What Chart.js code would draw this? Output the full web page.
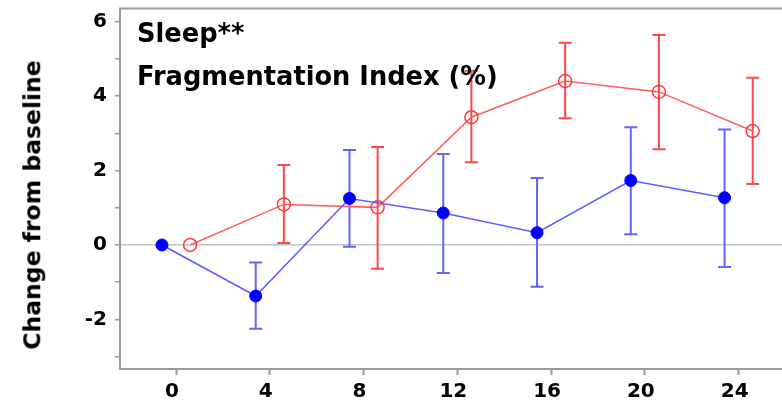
<!DOCTYPE html>
<html>
<head>
<meta charset="utf-8">
<script src="https://cdn.jsdelivr.net/npm/chart.js@4.4.0/dist/chart.umd.min.js"></script>
<style>
    html, body { margin: 0; padding: 0; background: #fff; }
    #wrap { position: relative; width: 782px; height: 404px; overflow: hidden; }
    #wrap canvas { position: absolute; left: 0; top: 0; }
    .note {
        position: absolute;
        font-family: "DejaVu Sans";
        font-weight: bold;
        font-size: 25.7px;
        line-height: 1;
        color: #000;
        white-space: nowrap;
    }
    #ytitle {
        position: absolute;
        left: 33px;
        top: 205px;
        transform: translate(-50%, -50%) rotate(-90deg);
        font-family: "DejaVu Sans";
        font-weight: bold;
        font-size: 23.5px;
        line-height: 1;
        color: #000;
        white-space: nowrap;
    }
</style>
</head>
<body>
<div id="wrap">
    <canvas id="myChart" width="782" height="404"></canvas>
    <div class="note" style="left:137px; top:21px;">Sleep**</div>
    <div class="note" style="left:137px; top:64px;">Fragmentation Index (%)</div>
    <div id="ytitle">Change from baseline</div>
</div>
<script>
// tick labels
const xTicks = [0, 4, 8, 12, 16, 20, 24];
const yTicks = [-3, -2, -1, 0, 1, 2, 3, 4, 5, 6];

// serie azul (puntos llenos), x desplazada a la izquierda
const blueX = [-0.6, 3.4, 7.4, 11.4, 15.4, 19.4, 23.4];
const blueMean = [0, -1.37, 1.25, 0.86, 0.33, 1.73, 1.27];
const blueLow = [0, -2.25, -0.05, -0.75, -1.12, 0.29, -0.59];
const blueHigh = [0, -0.47, 2.55, 2.44, 1.80, 3.16, 3.10];

// serie roja (círculos vacíos), x desplazada a la derecha
const redX = [0.6, 4.6, 8.6, 12.6, 16.6, 20.6, 24.6];
const redMean = [0, 1.09, 1.01, 3.43, 4.40, 4.11, 3.06];
const redLow = [0, 0.05, -0.64, 2.22, 3.40, 2.57, 1.64];
const redHigh = [0, 2.15, 2.63, 4.68, 5.43, 5.64, 4.49];

function puntos(xs, mean, low, high) {
    return xs.map((x, i) => ({ x: x, y: mean[i], lo: low[i], hi: high[i] }));
}

// barras de error y borde superior
const errorBars = {
    id: 'errorBars',
    beforeDatasetsDraw(chart) {
        const ctx = chart.ctx;
        const xs = chart.scales.x;
        const ys = chart.scales.y;
        chart.data.datasets.forEach(ds => {
            ctx.save();
            ctx.strokeStyle = ds.errColor;
            ctx.lineWidth = 2;
            ds.data.forEach(p => {
                if (p.lo === p.hi) return;
                const px = xs.getPixelForValue(p.x);
                const top = ys.getPixelForValue(p.hi);
                const bot = ys.getPixelForValue(p.lo);
                ctx.beginPath();
                ctx.moveTo(px, top);
                ctx.lineTo(px, bot);
                ctx.moveTo(px - 6.5, top);
                ctx.lineTo(px + 6.5, top);
                ctx.moveTo(px - 6.5, bot);
                ctx.lineTo(px + 6.5, bot);
                ctx.stroke();
            });
            ctx.restore();
        });
    },
    afterDraw(chart) {
        const ctx = chart.ctx;
        const a = chart.chartArea;
        ctx.save();
        ctx.strokeStyle = '#9a9a9a';
        ctx.lineWidth = 2;
        ctx.beginPath();
        ctx.moveTo(a.left - 1, a.top);
        ctx.lineTo(a.right, a.top);
        ctx.stroke();
        ctx.restore();
    }
};

Chart.defaults.font.family = 'DejaVu Sans';
Chart.defaults.color = '#000';

const ctx = document.getElementById('myChart').getContext('2d');
const myChart = new Chart(ctx, {
    type: 'scatter',
    data: {
        datasets: [
            {
                label: 'Blue',
                data: puntos(blueX, blueMean, blueLow, blueHigh),
                showLine: true,
                borderColor: '#5c5cff',
                borderWidth: 1.5,
                backgroundColor: '#0000ff',
                pointBackgroundColor: '#0000ff',
                pointBorderColor: '#0000ff',
                pointRadius: 6,
                pointBorderWidth: 1,
                errColor: '#6464ff'
            },
            {
                label: 'Red',
                data: puntos(redX, redMean, redLow, redHigh),
                showLine: true,
                borderColor: '#ff5c5c',
                borderWidth: 1.5,
                backgroundColor: 'rgba(0,0,0,0)',
                pointBackgroundColor: 'rgba(0,0,0,0)',
                pointBorderColor: '#ff3a3a',
                pointRadius: 6.5,
                pointBorderWidth: 1.5,
                errColor: '#ff4848'
            }
        ]
    },
    options: {
        responsive: false,
        animation: false,
        layout: { autoPadding: false, padding: { top: 8.5, left: 0, right: 0, bottom: 0 } },
        plugins: {
            legend: { display: false },
            tooltip: { enabled: false }
        },
        scales: {
            x: {
                type: 'linear',
                min: -2.39,
                max: 25.85,
                afterBuildTicks: s => { s.ticks = xTicks.map(v => ({ value: v })); },
                afterFit: s => { s.height = 35; s.paddingLeft = 0; s.paddingRight = 0; },
                grid: {
                    drawOnChartArea: false,
                    drawTicks: true,
                    tickLength: 6,
                    tickColor: '#9a9a9a',
                    tickWidth: 2
                },
                border: { color: '#9a9a9a', width: 2 },
                ticks: {
                    autoSkip: false,
                    maxRotation: 0,
                    padding: 5,
                    labelOffset: -4,
                    font: { size: 20, weight: 'bold' },
                    color: '#000'
                }
            },
            y: {
                type: 'linear',
                min: -3.33,
                max: 6.35,
                afterBuildTicks: s => { s.ticks = yTicks.map(v => ({ value: v })); },
                afterFit: s => { s.width = 120; s.paddingTop = 0; s.paddingBottom = 0; },
                grid: {
                    color: c => (c.tick && c.tick.value === 0) ? '#c4c4c4' : 'rgba(0,0,0,0)',
                    lineWidth: 1.5,
                    tickColor: '#9a9a9a',
                    tickLength: 5,
                    tickWidth: 1.5
                },
                border: { color: '#9a9a9a', width: 2 },
                ticks: {
                    autoSkip: false,
                    padding: 8,
                    font: { size: 20, weight: 'bold' },
                    color: '#000',
                    callback: v => (v % 2 === 0 ? v : '')
                }
            }
        }
    },
    plugins: [errorBars]
});
</script>
</body>
</html>
